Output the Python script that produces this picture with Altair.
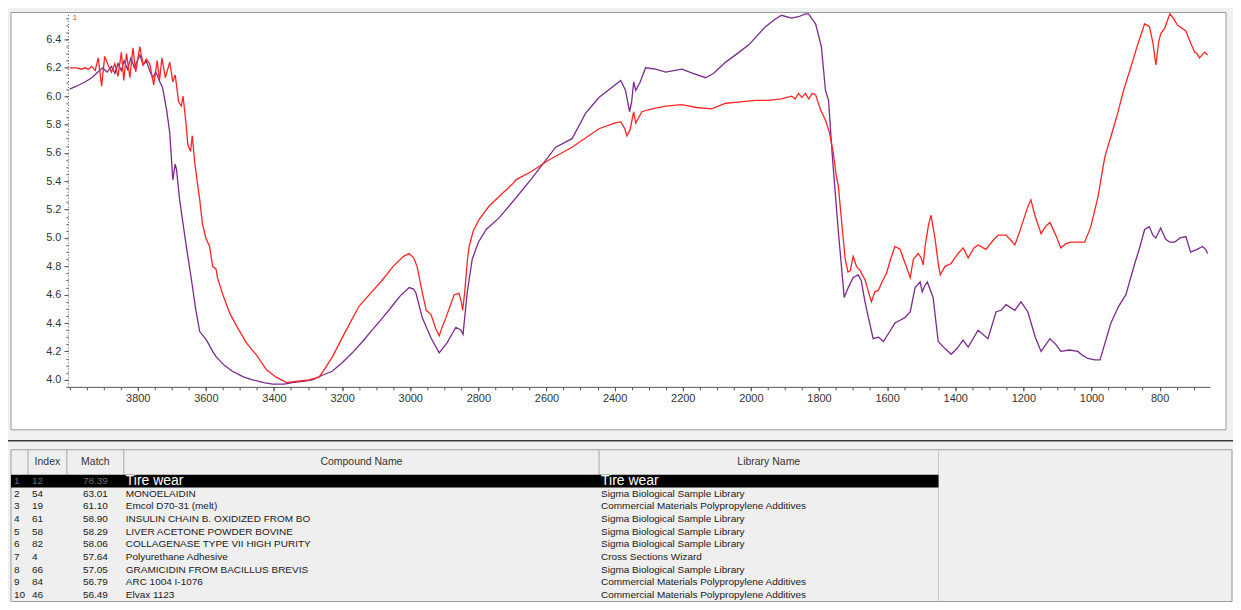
import altair as alt
import pandas as pd

# ---------------- spectrum data (wavenumber, value) ----------------
red_wn = [4000, 3980, 3965, 3955, 3945, 3935, 3925, 3916, 3906, 3897, 3887, 3877, 3867, 3858, 3848, 3841,
          3833, 3823, 3814, 3806, 3794, 3784, 3775, 3765, 3753, 3743, 3736, 3729, 3719, 3706, 3697, 3690,
          3680, 3672, 3667, 3658, 3653, 3645, 3640, 3632, 3625, 3618, 3610, 3600, 3589, 3580, 3570, 3566,
          3550, 3530, 3510, 3481, 3450, 3422, 3395, 3363, 3330, 3296, 3267, 3250, 3229, 3188, 3150, 3120,
          3083, 3050, 3020, 3003, 2990, 2980, 2965, 2953, 2939, 2925, 2915, 2905, 2895, 2871, 2857, 2850,
          2846, 2840, 2832, 2827, 2815, 2798, 2770, 2740, 2700, 2690, 2643, 2593, 2525, 2446, 2400, 2382,
          2370, 2364, 2355, 2344, 2338, 2320, 2290, 2250, 2203, 2160, 2115, 2074, 2030, 1986, 1950, 1910,
          1880, 1870, 1860, 1850, 1840, 1830, 1820, 1810, 1795, 1781, 1770, 1758, 1750, 1743, 1733, 1723,
          1715, 1708, 1700, 1690, 1679, 1664, 1655, 1646, 1636, 1626, 1615, 1602, 1590, 1577, 1562, 1544,
          1532, 1523, 1509, 1500, 1494, 1488, 1478, 1471, 1459, 1450, 1444, 1430, 1412, 1395, 1377, 1362,
          1345, 1333, 1310, 1290, 1274, 1251, 1235, 1225, 1210, 1190, 1178, 1165, 1148, 1135, 1122, 1105,
          1090, 1075, 1061, 1040, 1020, 1002, 981, 961, 940, 923, 905, 885, 865, 844, 830, 820,
          811, 803, 797, 785, 770, 760, 747, 723, 710, 697, 690, 683, 668, 659]
red_val = [6.20, 6.20, 6.19, 6.20, 6.19, 6.21, 6.18, 6.27, 6.07, 6.28, 6.22, 6.17, 6.23, 6.14, 6.31, 6.11,
           6.30, 6.13, 6.34, 6.17, 6.35, 6.22, 6.26, 6.23, 6.08, 6.25, 6.11, 6.27, 6.13, 6.24, 6.10, 6.15,
           5.96, 5.93, 6.00, 5.80, 5.66, 5.61, 5.72, 5.52, 5.39, 5.27, 5.10, 5.00, 4.94, 4.80, 4.78, 4.72,
           4.60, 4.47, 4.38, 4.26, 4.17, 4.07, 4.02, 3.98, 3.99, 4.00, 4.02, 4.08, 4.16, 4.35, 4.52, 4.60,
           4.70, 4.80, 4.87, 4.89, 4.86, 4.80, 4.62, 4.49, 4.46, 4.36, 4.31, 4.38, 4.44, 4.60, 4.61, 4.55,
           4.49, 4.62, 4.85, 4.94, 5.05, 5.13, 5.22, 5.29, 5.38, 5.41, 5.47, 5.55, 5.64, 5.77, 5.81, 5.82,
           5.77, 5.72, 5.76, 5.89, 5.81, 5.89, 5.91, 5.93, 5.94, 5.92, 5.91, 5.95, 5.96, 5.97, 5.97, 5.98,
           6.00, 5.98, 6.02, 5.99, 6.02, 5.98, 6.02, 6.01, 5.90, 5.83, 5.75, 5.60, 5.45, 5.36, 5.10, 4.85,
           4.76, 4.77, 4.87, 4.80, 4.77, 4.70, 4.62, 4.55, 4.62, 4.63, 4.69, 4.75, 4.85, 4.94, 4.92, 4.80,
           4.72, 4.85, 4.89, 4.86, 4.81, 4.95, 5.10, 5.16, 4.99, 4.82, 4.74, 4.80, 4.82, 4.88, 4.93, 4.86,
           4.93, 4.95, 4.92, 4.98, 5.02, 5.02, 4.98, 4.95, 5.05, 5.20, 5.27, 5.15, 5.03, 5.08, 5.11, 5.02,
           4.93, 4.96, 4.97, 4.97, 4.97, 5.08, 5.29, 5.57, 5.74, 5.88, 6.05, 6.20, 6.36, 6.51, 6.49, 6.38,
           6.22, 6.38, 6.44, 6.48, 6.58, 6.55, 6.50, 6.46, 6.38, 6.31, 6.30, 6.27, 6.31, 6.29]

purple_wn = [4000, 3980, 3955, 3935, 3917, 3903, 3890, 3877, 3867, 3858, 3848, 3840, 3830, 3820, 3810, 3794,
             3784, 3775, 3765, 3756, 3747, 3735, 3727, 3715, 3706, 3697, 3690, 3686, 3677, 3667, 3656, 3642,
             3630, 3618, 3598, 3580, 3569, 3545, 3522, 3490, 3463, 3430, 3404, 3370, 3346, 3310, 3287, 3260,
             3229, 3200, 3170, 3140, 3112, 3080, 3053, 3030, 3003, 2990, 2983, 2965, 2940, 2915, 2892, 2866,
             2851, 2845, 2833, 2818, 2800, 2777, 2740, 2701, 2643, 2573, 2525, 2485, 2446, 2382, 2368, 2356,
             2350, 2344, 2338, 2325, 2309, 2280, 2250, 2203, 2170, 2133, 2110, 2074, 2040, 2007, 1957, 1930,
             1910, 1881, 1860, 1840, 1831, 1810, 1793, 1781, 1772, 1760, 1743, 1734, 1726, 1714, 1700, 1685,
             1676, 1665, 1655, 1641, 1625, 1611, 1595, 1577, 1562, 1547, 1532, 1518, 1503, 1497, 1490, 1482,
             1465, 1450, 1430, 1412, 1395, 1377, 1362, 1333, 1304, 1280, 1265, 1251, 1225, 1207, 1187, 1165,
             1148, 1122, 1105, 1090, 1065, 1040, 1025, 1011, 990, 975, 943, 920, 899, 873, 860, 844,
             830, 820, 811, 797, 782, 770, 756, 740, 723, 709, 690, 674, 665, 659]
purple_val = [6.05, 6.07, 6.10, 6.13, 6.17, 6.20, 6.17, 6.21, 6.16, 6.23, 6.18, 6.25, 6.19, 6.27, 6.20, 6.29,
              6.22, 6.25, 6.18, 6.13, 6.17, 6.10, 6.06, 5.90, 5.74, 5.41, 5.52, 5.48, 5.27, 5.10, 4.92, 4.70,
              4.50, 4.34, 4.28, 4.20, 4.16, 4.10, 4.06, 4.02, 4.00, 3.98, 3.97, 3.97, 3.98, 3.99, 4.00, 4.03,
              4.06, 4.12, 4.19, 4.27, 4.35, 4.44, 4.52, 4.59, 4.65, 4.64, 4.61, 4.44, 4.30, 4.19, 4.26, 4.37,
              4.35, 4.32, 4.61, 4.85, 4.97, 5.06, 5.14, 5.25, 5.42, 5.64, 5.70, 5.88, 5.99, 6.11, 6.04, 5.89,
              5.96, 6.10, 6.04, 6.10, 6.20, 6.19, 6.17, 6.19, 6.16, 6.13, 6.16, 6.24, 6.30, 6.36, 6.49, 6.54,
              6.57, 6.55, 6.56, 6.58, 6.58, 6.51, 6.35, 6.04, 5.97, 5.55, 5.04, 4.80, 4.58, 4.65, 4.72, 4.74,
              4.70, 4.55, 4.44, 4.29, 4.30, 4.27, 4.33, 4.40, 4.42, 4.44, 4.48, 4.65, 4.69, 4.62, 4.66, 4.69,
              4.58, 4.27, 4.22, 4.18, 4.22, 4.28, 4.23, 4.35, 4.29, 4.48, 4.49, 4.53, 4.49, 4.55, 4.48, 4.30,
              4.20, 4.29, 4.25, 4.20, 4.21, 4.20, 4.17, 4.15, 4.14, 4.14, 4.40, 4.52, 4.60, 4.82, 4.92, 5.06,
              5.08, 5.02, 5.00, 5.07, 4.99, 4.97, 4.97, 5.00, 5.01, 4.90, 4.92, 4.94, 4.92, 4.89]

x_ticks = [3800, 3600, 3400, 3200, 3000, 2800, 2600, 2400, 2200, 2000, 1800, 1600, 1400, 1200, 1000, 800]
y_ticks = [4.0, 4.2, 4.4, 4.6, 4.8, 5.0, 5.2, 5.4, 5.6, 5.8, 6.0, 6.2, 6.4]
x_minor = list(range(700, 4001, 50))
y_minor = [round(3.95 + 0.05 * i, 2) for i in range(53)]

trace_tag = ["1"]
trace_tag_wn = [3990]
trace_tag_val = [6.55]

# ---------------- hit-list table ----------------
headers = ["Index", "Match", "Compound Name", "Library Name"]
row_no = [1, 2, 3, 4, 5, 6, 7, 8, 9, 10]
hit_index = [12, 54, 19, 61, 58, 82, 4, 66, 84, 46]
hit_match = [78.39, 63.01, 61.10, 58.90, 58.29, 58.06, 57.64, 57.05, 56.79, 56.49]
compound = ["Tire wear", "MONOELAIDIN", "Emcol D70-31 (melt)", "INSULIN CHAIN B. OXIDIZED FROM BO",
            "LIVER ACETONE POWDER BOVINE", "COLLAGENASE TYPE VII HIGH PURITY", "Polyurethane Adhesive",
            "GRAMICIDIN FROM BACILLUS BREVIS", "ARC 1004 I-1076", "Elvax 1123"]
library = ["Tire wear", "Sigma Biological Sample Library", "Commercial Materials Polypropylene Additives",
           "Sigma Biological Sample Library", "Sigma Biological Sample Library",
           "Sigma Biological Sample Library", "Cross Sections Wizard", "Sigma Biological Sample Library",
           "Commercial Materials Polypropylene Additives", "Commercial Materials Polypropylene Additives"]

# ---------------- styling / layout ----------------
FONT = "Liberation Sans"
RED = "#ff2424"
PURPLE = "#7a2a8c"
W, H = 1144, 375
COL_PX = [-57, -40, -1, 56, 532, 872, 1166]      # column edges (plot px)
ROW_PX = [438, 463, 590]                         # header top, header bottom, table bottom

red_df = pd.DataFrame({"wn": red_wn, "val": red_val})
purple_df = pd.DataFrame({"wn": purple_wn, "val": purple_val})
tag_df = pd.DataFrame({"wn": trace_tag_wn, "val": trace_tag_val, "t": trace_tag})
hits = pd.DataFrame({"row": row_no, "idx": hit_index, "match": hit_match,
                     "compound": compound, "library": library})
head_df = pd.DataFrame({"h": headers, "c": [1.5, 2.5, 3.5, 4.5]})
one = pd.DataFrame({"k": [0]})

XS = alt.Scale(domain=[652, 4005], reverse=True, nice=False, zero=False)
YS = alt.Scale(domain=[3.95, 6.59], nice=False, zero=False)
TX = alt.Scale(domain=[0, 1, 2, 3, 4, 5, 6], range=COL_PX, nice=False, zero=False)
TY = alt.Scale(domain=[-0.5, 0.5, 10.5], range=ROW_PX, nice=False, zero=False)

ax_common = dict(grid=False, title=None, labelFont=FONT, labelFontSize=11, labelColor="#333333",
                 tickColor="#555555", domainColor="#555555", zindex=1)

purple_line = alt.Chart(purple_df).mark_line(color=PURPLE, strokeWidth=1.3).encode(
    x=alt.X("wn:Q", scale=XS, axis=alt.Axis(values=x_ticks, format="d", orient="bottom", tickSize=4,
                                             labelPadding=2, **ax_common)),
    y=alt.Y("val:Q", scale=YS, axis=alt.Axis(values=y_ticks, format=".1f", orient="left", tickSize=4,
                                              labelPadding=3, domainDash=[1, 2], **ax_common)),
)
red_line = alt.Chart(red_df).mark_line(color=RED, strokeWidth=1.3).encode(
    x=alt.X("wn:Q", scale=XS, axis=alt.Axis(values=x_minor, labels=False, domain=False, orient="bottom",
                                             tickSize=3, grid=False, title=None, tickColor="#555555",
                                             zindex=1)),
    y=alt.Y("val:Q", scale=YS, axis=alt.Axis(values=y_minor, labels=False, domain=False, orient="left",
                                              tickSize=2, grid=False, title=None, tickColor="#555555",
                                              zindex=1)),
)
tag = alt.Chart(tag_df).mark_text(color=RED, fontSize=7, font=FONT, align="left", baseline="middle").encode(
    x=alt.X("wn:Q", scale=XS, axis=None),
    y=alt.Y("val:Q", scale=YS, axis=None),
    text="t:N",
)
spectrum = alt.layer(purple_line, red_line, tag).resolve_axis(x="independent", y="independent")

# decorative panel frame and pane separator
panel = alt.Chart(one).mark_rect(fill="white", stroke="#9a9a9a", strokeWidth=1).encode(
    x=alt.value(-57), x2=alt.value(1160), y=alt.value(0), y2=alt.value(418))
pane_sep = alt.Chart(one).mark_rule(color="#3a3a3a", strokeWidth=1.5).encode(
    x=alt.value(-60), x2=alt.value(1167), y=alt.value(429))

# table
tbox = alt.Chart(one).mark_rect(fill="#efefef", stroke="#9c9c9c", strokeWidth=1).encode(
    x=alt.X(datum=0, scale=TX, axis=None), x2=alt.X2(datum=6),
    y=alt.Y(datum=-0.5, scale=TY, axis=None), y2=alt.Y2(datum=10.5))
head_sep = alt.Chart(pd.DataFrame({"c": [1, 2, 3, 4]})).mark_rule(color="#a8a8a8").encode(
    x=alt.X("c:Q", scale=TX, axis=None),
    y=alt.Y(datum=-0.5, scale=TY, axis=None), y2=alt.Y2(datum=0.5))
body_sep = alt.Chart(pd.DataFrame({"c": [5]})).mark_rule(color="#c4c4c4").encode(
    x=alt.X("c:Q", scale=TX, axis=None),
    y=alt.Y(datum=-0.5, scale=TY, axis=None), y2=alt.Y2(datum=10.5))
highlight = alt.Chart(hits).transform_filter("datum.row == 1").transform_calculate(
    lo="datum.row - 0.5", hi="datum.row + 0.5").mark_rect(color="black").encode(
    x=alt.X(datum=0, scale=TX, axis=None), x2=alt.X2(datum=5),
    y=alt.Y("lo:Q", scale=TY, axis=None), y2="hi:Q")
head_txt = alt.Chart(head_df).mark_text(font=FONT, fontSize=10.5, color="#333333", baseline="middle").encode(
    x=alt.X("c:Q", scale=TX, axis=None),
    y=alt.Y(datum=0, scale=TY, axis=None),
    text="h:N")

is_top = alt.datum.row == 1


def col_text(field, col, dx, align="left", fmt=None, big=False):
    txt = alt.Text(field, format=fmt) if fmt else alt.Text(field)
    color = alt.condition(is_top, alt.value("white" if big else "#6a6a6a"), alt.value("#1a1a1a"))
    size = alt.condition(is_top, alt.value(14 if big else 10), alt.value(10))
    return alt.Chart(hits).mark_text(font=FONT, align=align, baseline="middle", dx=dx).encode(
        x=alt.X(datum=col, scale=TX, axis=None),
        y=alt.Y("row:Q", scale=TY, axis=None),
        text=txt, color=color, size=size)


t_row = col_text("row:Q", 0, 3)
t_idx = col_text("idx:Q", 1, 4)
t_match = col_text("match:Q", 3, -16, align="right", fmt=".2f")
t_comp = col_text("compound:N", 3, 2, big=True)
t_lib = col_text("library:N", 4, 2, big=True)

chart = alt.layer(
    panel, spectrum, pane_sep, tbox, head_sep, body_sep, highlight, head_txt,
    t_row, t_idx, t_match, t_comp, t_lib,
).resolve_scale(x="independent", y="independent").properties(
    width=W, height=H,
    padding={"left": 60, "top": 4, "right": 23, "bottom": 215},
    autosize=alt.AutoSizeParams(type="none"),
).configure(background="#f0f0f0").configure_view(strokeWidth=0)

chart.save("out.html", embed_options={"renderer": "svg", "actions": False})
